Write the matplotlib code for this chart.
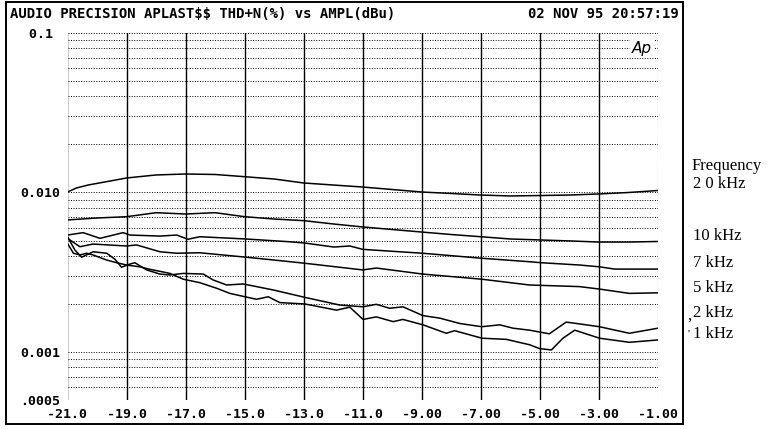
import matplotlib
matplotlib.use("Agg")
import matplotlib.pyplot as plt
import matplotlib.ticker as mticker
from matplotlib.patches import Rectangle

# THD+N (%) vs amplitude (dBu), one trace per test frequency
db_20k = [-21, -20.7, -20.3, -19, -18, -17, -16, -15, -14, -13, -12, -11, -10, -9, -8, -7, -6, -5, -4, -3, -2, -1]
thd_20k = [0.01007, 0.01067, 0.01114, 0.01233, 0.01288, 0.01306, 0.01297, 0.01256, 0.01215, 0.01147, 0.01114,
           0.01082, 0.01044, 0.01007, 0.00986, 0.00964, 0.00951, 0.00957, 0.00964, 0.00979, 0.01000, 0.01029]

db_10k = [-21, -20, -19, -18, -17, -16, -15, -14, -13, -12, -11, -10, -9, -8, -7, -6, -5, -4, -3, -2, -1]
thd_10k = [0.00673, 0.00692, 0.00705, 0.00747, 0.00733, 0.00747, 0.00705, 0.00682, 0.00666, 0.00635, 0.00608,
           0.00586, 0.00565, 0.00545, 0.00528, 0.00511, 0.00504, 0.00497, 0.00489, 0.00489, 0.00493]

db_7k = [-21, -20.47, -19.9, -19.12, -18.88, -17.87, -17.3, -16.92, -16.52, -14.96, -13.47, -12.96, -11.98,
         -11.44, -11, -8.97, -6.97, -5.35, -4.97, -3.66, -2.98, -2.47, -1]
thd_7k = [0.00541, 0.00560, 0.00516, 0.00560, 0.00541, 0.00533, 0.00541, 0.00509, 0.00528, 0.00511, 0.00491,
          0.00482, 0.00455, 0.00462, 0.00440, 0.00416, 0.00387, 0.00368, 0.00363, 0.00351, 0.00342, 0.00331, 0.00331]

db_5k = [-21, -20.58, -20.14, -19, -18.66, -17.87, -17.3, -16.52, -14.96, -13.81, -12.96, -11, -10.54, -8.97,
         -6.97, -5.35, -3.66, -2.98, -1.97, -1]
thd_5k = [0.00516, 0.00457, 0.00475, 0.00462, 0.00469, 0.00425, 0.00416, 0.00419, 0.00393, 0.00374, 0.00360,
          0.00327, 0.00336, 0.00308, 0.00286, 0.00263, 0.00257, 0.00248, 0.00233, 0.00235]

db_2k = [-21, -20.75, -20.52, -20.13, -19.67, -19.39, -19.17, -18.88, -18.72, -18.32, -17.87, -17.53, -17.08,
         -16.4, -16.07, -15.61, -15.05, -14.6, -14.04, -12.96, -11.78, -10.99, -10.54, -10.09, -9.64, -8.96,
         -8.39, -7.72, -6.97, -6.36, -5.91, -5.35, -4.68, -4.11, -3.66, -2.98, -1.97, -1]
thd_2k = [0.00528, 0.00436, 0.00393, 0.00425, 0.00416, 0.00381, 0.00340, 0.00356, 0.00363, 0.00327, 0.00308,
          0.00304, 0.00311, 0.00308, 0.00283, 0.00263, 0.00267, 0.00257, 0.00245, 0.00220, 0.00197, 0.00192,
          0.00199, 0.00188, 0.00192, 0.00169, 0.00163, 0.00151, 0.00144, 0.00148, 0.00141, 0.00137, 0.00130,
          0.00154, 0.00150, 0.00144, 0.00131, 0.00141]

db_1k = [-21, -20.8, -20.58, -20.35, -20.14, -19.67, -19.34, -19, -18.55, -18.21, -17.53, -17.08, -16.52,
         -15.95, -15.5, -14.99, -14.6, -14.2, -13.81, -12.96, -11.89, -11.44, -10.99, -10.54, -9.97, -9.64,
         -8.96, -8.17, -7.89, -6.96, -6.14, -5.35, -5.01, -4.61, -4.22, -3.82, -2.98, -1.97, -1]
thd_1k = [0.00480, 0.00416, 0.00406, 0.00416, 0.00406, 0.00377, 0.00363, 0.00351, 0.00342, 0.00330, 0.00311,
          0.00286, 0.00272, 0.00251, 0.00233, 0.00222, 0.00214, 0.00222, 0.00204, 0.00200, 0.00183, 0.00191,
          0.00160, 0.00166, 0.00155, 0.00160, 0.00148, 0.00131, 0.00136, 0.00122, 0.00120, 0.00111, 0.00105,
          0.00103, 0.00122, 0.00137, 0.00122, 0.00115, 0.00119]

x_ticks = [-21, -19, -17, -15, -13, -11, -9, -7, -5, -3, -1]
x_labels = ["-21.0", "-19.0", "-17.0", "-15.0", "-13.0", "-11.0", "-9.00", "-7.00", "-5.00", "-3.00", "-1.00"]
y_ticks = [0.0005, 0.001, 0.01, 0.1]
y_labels = [".0005", "0.001", "0.010", "0.1 "]

freq_labels = ["2 0 kHz", "10 kHz", "7 kHz", "5 kHz", "2 kHz", "1 kHz"]

plt.rcParams["text.parse_math"] = False

W, H = 777, 429
mono = {"family": "DejaVu Sans Mono", "weight": "bold", "size": 9.5}
head = dict(mono, size=10)

fig = plt.figure(figsize=(W / 100, H / 100), dpi=100)


def px(x, y):
    return x / W, 1 - y / H


ax = fig.add_axes([67.5 / W, 29 / H, (658 - 67.5) / W, (400 - 33) / H])
for db, thd in [(db_20k, thd_20k), (db_10k, thd_10k), (db_7k, thd_7k),
                (db_5k, thd_5k), (db_2k, thd_2k), (db_1k, thd_1k)]:
    ax.plot(db, thd, color="black", lw=1.1, zorder=3)

ax.set_yscale("log")
ax.set_xlim(-21, -1)
ax.set_ylim(0.0005, 0.1)
ax.set_xticks(x_ticks, labels=x_labels)
ax.set_yticks(y_ticks, labels=y_labels)
ax.yaxis.set_minor_locator(mticker.LogLocator(base=10, subs=range(2, 10), numticks=20))
ax.yaxis.set_minor_formatter(mticker.NullFormatter())
ax.tick_params(which="both", length=0)
ax.tick_params(axis="y", pad=5)
ax.tick_params(axis="x", pad=6)
for lab in ax.get_xticklabels() + ax.get_yticklabels():
    lab.set_fontproperties(mono)
    lab.set_fontweight("bold")

ax.grid(axis="x", color="black", lw=1.0, ls="-")
ax.grid(axis="y", which="both", color="black", lw=0.7, ls=(0, (1, 1.6)))
ax.get_xgridlines()[-1].set_linestyle((0, (1, 1.6)))
ax.get_xgridlines()[-1].set_linewidth(0.8)
for s in ax.spines.values():
    s.set_visible(False)
ax.set_axisbelow(True)

# Ap logo
ax.text(0.973, 0.958, "Ap", transform=ax.transAxes, ha="center", va="center", fontsize=11,
        style="italic", family="DejaVu Sans", zorder=4,
        bbox=dict(facecolor="white", edgecolor="none", pad=1.5))

# header
fig.text(*px(10, 14), "AUDIO PRECISION APLAST$$ THD+N(%) vs AMPL(dBu)", ha="left", va="center", **head)
fig.text(*px(679, 14), "02 NOV 95 20:57:19", ha="right", va="center", **head)

# outer frame
fig.patches.append(Rectangle(px(6, 424), (683 - 6) / W, (424 - 2) / H, transform=fig.transFigure,
                             fill=False, edgecolor="black", lw=1.4))

# frequency labels on the right
serif = {"family": "Liberation Serif", "size": 12}
fig.text(*px(692, 166), "Frequency", ha="left", va="center", **serif)
label_y = [184, 236, 263, 288, 313, 334]
for lab, y in zip(freq_labels, label_y):
    fig.text(*px(693, y), lab, ha="left", va="center", **serif)
fig.text(*px(687, 316), ",", ha="left", va="center", **serif)
fig.text(*px(688, 334), "'", ha="left", va="center", family="Liberation Serif", size=8)

fig.savefig("out.png", dpi=100)
